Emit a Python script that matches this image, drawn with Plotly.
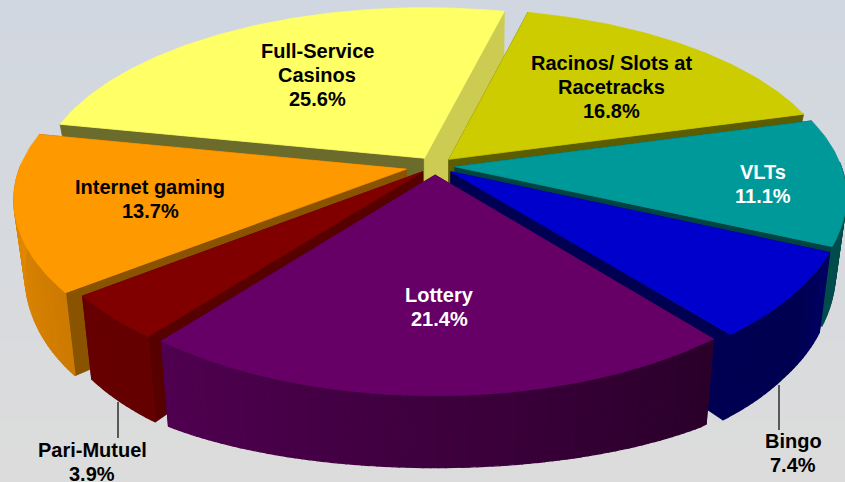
import numpy as np
import plotly.graph_objects as go

# Data
categories = ["Racinos/ Slots at Racetracks", "VLTs", "Bingo", "Lottery", "Pari-Mutuel", "Internet gaming", "Full-Service Casinos"]
shares = [16.8, 11.1, 7.4, 21.4, 3.9, 13.7, 25.6]
label_lines = [["Racinos/ Slots at", "Racetracks", "16.8%"], ["VLTs", "11.1%"], ["Bingo", "7.4%"], ["Lottery", "21.4%"],
               ["Pari-Mutuel", "3.9%"], ["Internet gaming", "13.7%"], ["Full-Service", "Casinos", "25.6%"]]

# Styles
top_colors = ["#CCCC00", "#009999", "#0000CC", "#660066", "#800000", "#FF9900", "#FFFF66"]
side_start = [0.45, 0.44, 0.40, 0.70, 0.67, 0.54, 0.42]
side_end = [0.45, 0.44, 0.40, 0.72, 0.67, 0.54, 0.80]
explode = [0.052, 0.052, 0.052, 0.050, 0.045, 0.076, 0.052]
label_pos = [(611, 63), (763, 172), (793, 441), (439, 295), (92, 450), (150, 187), (317, 51)]
label_pitch = 24
label_colors = ["black", "white", "black", "white", "black", "black", "black"]
leaders = [((779, 385), (779, 430)), ((118, 402), (118, 438))]

# Projection of the tilted, exploded disk
CX, CY = 435, 166
A, B, K_X, K_Y = 386, 179, 0.155, 0.173
START_DEG = 14.0
BOTTOM_SCALE, MIN_WALL = 0.974, 40
BOTTOM_DEPTHS = [-1.10, -1.052, -0.84, -0.81, -0.628, -0.447, 0.30]
BOTTOM_LEVELS = [477, 468, 427, 420, 375, 333, 161]


def top_pt(X, Y):
    return CX + A * X / (1 + K_X * Y), CY - B * Y / (1 + K_Y * Y)


def bottom_pt(X, Y):
    x, y = top_pt(X, Y)
    return CX + BOTTOM_SCALE * (x - CX), max(float(np.interp(Y, BOTTOM_DEPTHS, BOTTOM_LEVELS)), y + MIN_WALL)


def hex_scaled(color, f):
    r, g, b = [int(color[i:i + 2], 16) for i in (1, 3, 5)]
    return f"rgb({r * f:.0f},{g * f:.0f},{b * f:.0f})"


def outer_factor(deg):
    d = deg % 360
    return float(np.interp(d, [90, 114, 125, 140, 175, 218, 232, 262, 280],
                           [.50, .50, .40, .40, .58, .78, .80, .88, .88]))


fig = go.Figure()


def poly(pts, color, w=0.8):
    xs = [p[0] for p in pts] + [pts[0][0]]
    ys = [p[1] for p in pts] + [pts[0][1]]
    fig.add_trace(go.Scatter(x=xs, y=ys, mode="lines", fill="toself", fillcolor=color,
                             line=dict(color=color, width=w), hoverinfo="skip", showlegend=False))


edges = START_DEG + 3.6 * np.concatenate([[0], np.cumsum(shares)])
wedges = []
for i, name in enumerate(categories):
    t0, t1 = edges[i], edges[i + 1]
    mid = np.radians((t0 + t1) / 2)
    wedges.append((np.cos(mid), i, t0, t1, mid))

for _, i, t0, t1, mid in sorted(wedges, key=lambda w: -w[0]):
    ox, oy = explode[i] * np.sin(mid), explode[i] * np.cos(mid)
    color = top_colors[i]
    ts = np.radians(np.linspace(t0, t1, int(t1 - t0) + 2))
    Xs, Ys = ox + np.sin(ts), oy + np.cos(ts)
    # radial walls
    for tt, f in ((ts[0], side_start[i]), (ts[-1], side_end[i])):
        ex, ey = ox + np.sin(tt), oy + np.cos(tt)
        poly([top_pt(ox, oy), top_pt(ex, ey), bottom_pt(ex, ey), bottom_pt(ox, oy)], hex_scaled(color, f))
    # outer wall, shaded strip by strip, only where it faces the viewer
    for j in range(len(ts) - 1):
        tm = (ts[j] + ts[j + 1]) / 2
        if np.cos(tm) > 0.02:
            continue
        poly([top_pt(Xs[j], Ys[j]), top_pt(Xs[j + 1], Ys[j + 1]), bottom_pt(Xs[j + 1], Ys[j + 1]), bottom_pt(Xs[j], Ys[j])],
             hex_scaled(color, outer_factor(np.degrees(tm))), 1.2)
    # top face
    poly([top_pt(ox, oy)] + [top_pt(x, y) for x, y in zip(Xs, Ys)], color)

# Background bands
bands = 24
shapes = []
for b in range(bands):
    f = b / (bands - 1)
    shapes.append(dict(type="rect", xref="x", yref="y", x0=0, x1=845, y0=482 * b / bands, y1=482 * (b + 1) / bands + 1,
                       fillcolor=f"rgb({209 + 11 * f:.0f},{215 + 5 * f:.0f},{224 - 4 * f:.0f})", line_width=0, layer="below"))
for a, b in leaders:
    shapes.append(dict(type="line", xref="x", yref="y", x0=a[0], y0=a[1], x1=b[0], y1=b[1], line=dict(color="black", width=1.2)))

annotations = []
for (x, y), lines, c in zip(label_pos, label_lines, label_colors):
    for n, line in enumerate(lines):
        annotations.append(dict(x=x, y=y + n * label_pitch, text=f"<b>{line}</b>", showarrow=False, xref="x", yref="y",
                                xanchor="center", yanchor="middle", font=dict(family="Liberation Sans", size=20, color=c)))

fig.update_layout(width=845, height=482, margin=dict(l=0, r=0, t=0, b=0), paper_bgcolor="#D8DBE0", plot_bgcolor="rgba(0,0,0,0)",
                  xaxis=dict(range=[0, 845], visible=False, fixedrange=True),
                  yaxis=dict(range=[482, 0], visible=False, fixedrange=True),
                  shapes=shapes, annotations=annotations, showlegend=False)
fig.write_html("out.html", config=dict(displayModeBar=False),
               post_script="document.body.style.margin='0';document.documentElement.style.overflow='hidden';")
